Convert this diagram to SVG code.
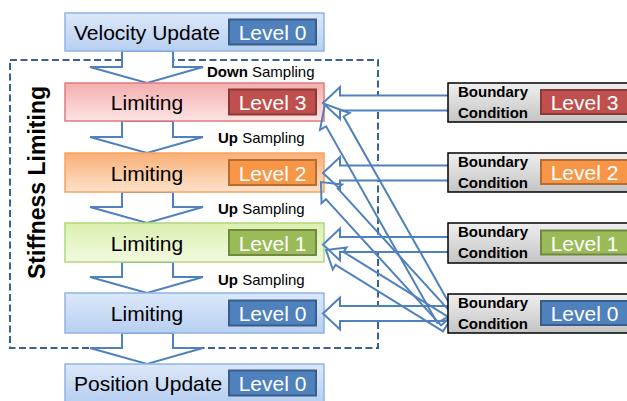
<svg xmlns="http://www.w3.org/2000/svg" width="627" height="401" viewBox="0 0 627 401">
<defs>
<linearGradient id="gBlue" x1="0" y1="0" x2="0" y2="1"><stop offset="0" stop-color="#DCE8F9"/><stop offset="1" stop-color="#B7CFF1"/></linearGradient>
<linearGradient id="gRed" x1="0" y1="0" x2="0" y2="1"><stop offset="0" stop-color="#F4AEAE"/><stop offset="1" stop-color="#FDE4E4"/></linearGradient>
<linearGradient id="gOrange" x1="0" y1="0" x2="0" y2="1"><stop offset="0" stop-color="#F9AF76"/><stop offset="1" stop-color="#FDE2CB"/></linearGradient>
<linearGradient id="gGreen" x1="0" y1="0" x2="0" y2="1"><stop offset="0" stop-color="#DAF0B0"/><stop offset="1" stop-color="#F2FAE0"/></linearGradient>
<linearGradient id="gGray" x1="0" y1="0" x2="0" y2="1"><stop offset="0" stop-color="#EFEFEF"/><stop offset="1" stop-color="#C4C4C4"/></linearGradient>
</defs>
<style>
.t{font-family:"Liberation Sans",Arial,sans-serif;font-size:21px;fill:#000}
.lv{font-family:"Liberation Sans",Arial,sans-serif;font-size:21px;fill:#fff;text-anchor:middle}
.s{font-family:"Liberation Sans",Arial,sans-serif;font-size:15px;fill:#000}
.b{font-weight:bold}
.bc{font-family:"Liberation Sans",Arial,sans-serif;font-size:15px;font-weight:bold;fill:#000}
.arr{fill:#fff;stroke:#4F81BD;stroke-width:2;stroke-linejoin:miter}
.darr{fill:none;stroke:#4F81BD;stroke-width:2;stroke-linejoin:miter}
.lb0{fill:#4F81BD;stroke:#385D8A;stroke-width:2}
.lb1{fill:#9BBB59;stroke:#71893F;stroke-width:2}
.lb2{fill:#F79646;stroke:#B66D31;stroke-width:2}
.lb3{fill:#C0504D;stroke:#8C3836;stroke-width:2}
.bcbox{fill:url(#gGray);stroke:#000;stroke-width:1.5}
</style>

<g id="stiffness-region">
<rect x="10" y="60" width="368" height="288" fill="none" stroke="#3B6190" stroke-width="2" stroke-dasharray="7 3.5"/>
<text transform="translate(45,182.5) rotate(-90)" text-anchor="middle" font-family="Liberation Sans, Arial, sans-serif" font-size="23" font-weight="bold" fill="#000">Stiffness Limiting</text>
</g>

<g id="connectors">
<polygon class="arr" points="122,51 173,51 173,67 203,67 147,83 90,67 122,67"/>
<polygon class="arr" points="122,121 173,121 173,137 203,137 147,153 90,137 122,137"/>
<polygon class="arr" points="122,192 173,192 173,207 203,207 147,223 90,207 122,207"/>
<polygon class="arr" points="122,262 173,262 173,277 203,277 147,293 90,277 122,277"/>
<polygon class="arr" points="122,333 173,333 173,348 203,348 147,364 90,348 122,348"/>
</g>

<g id="velocity-update">
<rect x="65" y="13" width="259" height="38" fill="url(#gBlue)" stroke="#8EB4E3" stroke-width="1.5"/>
<text class="t" x="74" y="40">Velocity Update</text>
<rect class="lb0" x="229" y="19.5" width="87" height="25"/>
<text class="lv" x="272.5" y="40">Level 0</text>
</g>

<g id="limiting-3">
<rect x="65" y="83" width="259" height="38" fill="url(#gRed)" stroke="#E27B7B" stroke-width="1.5"/>
<text class="t" x="147" y="110" text-anchor="middle">Limiting</text>
<rect class="lb3" x="229" y="89.5" width="87" height="25"/>
<text class="lv" x="272.5" y="110">Level 3</text>
</g>

<g id="limiting-2">
<rect x="65" y="153" width="259" height="39" fill="url(#gOrange)" stroke="#F7A25C" stroke-width="1.5"/>
<text class="t" x="147" y="180.5" text-anchor="middle">Limiting</text>
<rect class="lb2" x="229" y="160" width="87" height="25"/>
<text class="lv" x="272.5" y="180.5">Level 2</text>
</g>

<g id="limiting-1">
<rect x="65" y="223" width="259" height="39" fill="url(#gGreen)" stroke="#B2D67A" stroke-width="1.5"/>
<text class="t" x="147" y="250.5" text-anchor="middle">Limiting</text>
<rect class="lb1" x="229" y="230" width="87" height="25"/>
<text class="lv" x="272.5" y="250.5">Level 1</text>
</g>

<g id="limiting-0">
<rect x="65" y="293" width="259" height="40" fill="url(#gBlue)" stroke="#8EB4E3" stroke-width="1.5"/>
<text class="t" x="147" y="321" text-anchor="middle">Limiting</text>
<rect class="lb0" x="229" y="300.5" width="87" height="25"/>
<text class="lv" x="272.5" y="321">Level 0</text>
</g>

<g id="position-update">
<rect x="65" y="364" width="259" height="38" fill="url(#gBlue)" stroke="#8EB4E3" stroke-width="1.5"/>
<text class="t" x="74" y="391">Position Update</text>
<rect class="lb0" x="229" y="370.5" width="87" height="25"/>
<text class="lv" x="272.5" y="391">Level 0</text>
</g>

<g id="sampling-labels">
<text class="s" x="207" y="77"><tspan class="b">Down</tspan> Sampling</text>
<text class="s" x="218" y="143"><tspan class="b">Up</tspan> Sampling</text>
<text class="s" x="218" y="214"><tspan class="b">Up</tspan> Sampling</text>
<text class="s" x="218" y="285"><tspan class="b">Up</tspan> Sampling</text>
</g>

<g id="bc-connectors">
<polygon class="arr" points="449,95.5 340,95.5 340,87 323,103 340,119 340,110.5 449,110.5"/>
<polygon class="arr" points="449,165.5 340,165.5 340,157 323,173 340,189 340,180.5 449,180.5"/>
<polygon class="arr" points="449,237 340,237 340,228.5 323,244.5 340,260.5 340,252 449,252"/>
<polygon class="arr" points="449,306 340,306 340,297.5 323,313.5 340,329.5 340,321 449,321"/>
<polygon class="darr" points="454.7,313.1 343.6,116.5 349.6,113 325,104 320,129.8 326.1,126.3 437.3,322.9 454.7,313.1"/>
<polygon class="darr" points="452.9,314.6 337.7,188.4 342.1,184.4 321,182 321.5,203.2 325.9,199.2 441.1,325.4 452.9,314.6"/>
<polygon class="darr" points="451,318.6 343.6,252 346.5,247.4 326,250 332.8,269.5 335.6,264.8 443,331.4 451,318.6"/>
</g>

<g id="bc-3">
<rect class="bcbox" x="448" y="83" width="190" height="39"/>
<text class="bc" x="458" y="97">Boundary</text>
<text class="bc" x="458" y="118">Condition</text>
<rect class="lb3" x="541" y="90" width="87" height="24"/>
<text class="lv" x="584.5" y="110">Level 3</text>
</g>
<g id="bc-2">
<rect class="bcbox" x="448" y="153" width="190" height="39"/>
<text class="bc" x="458" y="167">Boundary</text>
<text class="bc" x="458" y="188">Condition</text>
<rect class="lb2" x="541" y="160" width="87" height="24"/>
<text class="lv" x="584.5" y="180">Level 2</text>
</g>
<g id="bc-1">
<rect class="bcbox" x="448" y="223" width="190" height="40"/>
<text class="bc" x="458" y="237">Boundary</text>
<text class="bc" x="458" y="258">Condition</text>
<rect class="lb1" x="541" y="230.5" width="87" height="24"/>
<text class="lv" x="584.5" y="250.5">Level 1</text>
</g>
<g id="bc-0">
<rect class="bcbox" x="448" y="294" width="190" height="39"/>
<text class="bc" x="458" y="308">Boundary</text>
<text class="bc" x="458" y="329">Condition</text>
<rect class="lb0" x="541" y="301" width="87" height="24"/>
<text class="lv" x="584.5" y="321">Level 0</text>
</g>
</svg>
